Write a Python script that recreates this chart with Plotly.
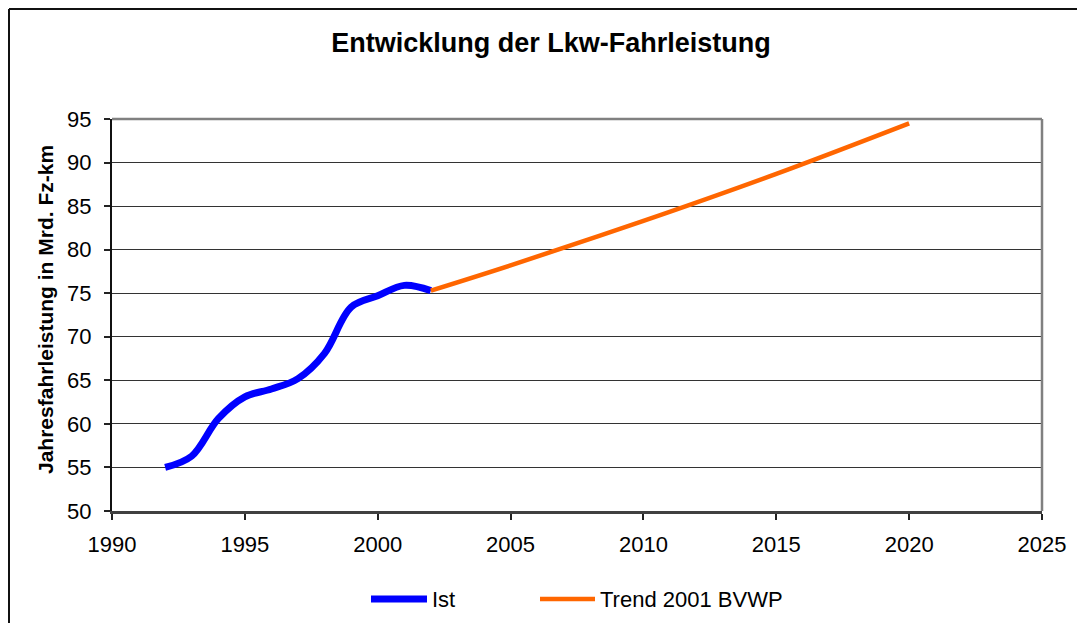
import plotly.graph_objects as go

# ---- data ----
ist_years = [1992, 1993, 1994, 1995, 1996, 1997, 1998, 1999, 2000, 2001, 2002]
ist_values = [55.0, 56.3, 60.6, 63.1, 64.0, 65.2, 68.1, 73.4, 74.7, 75.9, 75.3]

trend_years = [2002, 2005, 2010, 2015, 2020]
trend_values = [75.3, 78.2, 83.3, 88.7, 94.5]

x_ticks = [1990, 1995, 2000, 2005, 2010, 2015, 2020, 2025]
y_ticks = [50, 55, 60, 65, 70, 75, 80, 85, 90, 95]

title_text = "Entwicklung der Lkw-Fahrleistung"
y_title = "Jahresfahrleistung in Mrd. Fz-km"
series_names = ["Ist", "Trend 2001 BVWP"]
colors = ["#0000FF", "#FF6600"]

FONT = "Liberation Sans, Arial, sans-serif"
OFF = 8  # page body margin of the browser
W, H = 1085 - OFF, 623 - OFF
PL, PT, PR, PB = 112, 119, 1042, 511  # plot area in screenshot pixels
pw, ph = PR - PL, PB - PT
L, T = PL - OFF, PT - OFF
R, B = W - L - pw, H - T - ph

def px_x(p):
    return (p - PL) / pw

def px_y(p):
    return (PB - p) / ph

fig = go.Figure()
fig.add_trace(go.Scatter(x=ist_years, y=ist_values, mode="lines", name=series_names[0],
                         line=dict(color=colors[0], width=7, shape="spline"),
                         showlegend=False))
fig.add_trace(go.Scatter(x=trend_years, y=trend_values, mode="lines", name=series_names[1],
                         line=dict(color=colors[1], width=4.5, shape="spline"),
                         showlegend=False))

shapes = []
# plot area top/right border (gray)
shapes.append(dict(type="line", xref="paper", yref="paper", x0=0, x1=1, y0=1, y1=1,
                   line=dict(color="#808080", width=2.5)))
shapes.append(dict(type="line", xref="paper", yref="paper", x0=1, x1=1, y0=0, y1=1,
                   line=dict(color="#808080", width=2.5)))
# outer chart border (left and top visible)
shapes.append(dict(type="line", xref="paper", yref="paper", x0=px_x(9), x1=px_x(9),
                   y0=px_y(9), y1=px_y(700), line=dict(color="#111111", width=2)))
shapes.append(dict(type="line", xref="paper", yref="paper", x0=px_x(9), x1=px_x(1200),
                   y0=px_y(9), y1=px_y(9), line=dict(color="#111111", width=2)))
# legend samples
shapes.append(dict(type="line", xref="paper", yref="paper", x0=px_x(371), x1=px_x(427),
                   y0=px_y(599), y1=px_y(599), line=dict(color=colors[0], width=7)))
shapes.append(dict(type="line", xref="paper", yref="paper", x0=px_x(540), x1=px_x(595),
                   y0=px_y(599), y1=px_y(599), line=dict(color=colors[1], width=4.5)))

annotations = [
    dict(text=series_names[0], xref="paper", yref="paper", x=px_x(430), y=px_y(599),
         xanchor="left", yanchor="middle", showarrow=False,
         font=dict(family=FONT, size=22, color="black")),
    dict(text=series_names[1], xref="paper", yref="paper", x=px_x(598), y=px_y(599),
         xanchor="left", yanchor="middle", showarrow=False,
         font=dict(family=FONT, size=22, color="black")),
    dict(text="<b>" + y_title + "</b>", xref="paper", yref="paper", x=px_x(45), y=px_y(310),
         xanchor="center", yanchor="middle", textangle=-90, showarrow=False,
         font=dict(family=FONT, size=21, color="black")),
]

fig.update_layout(
    width=W, height=H,
    margin=dict(l=L, r=R, t=T, b=B),
    paper_bgcolor="white", plot_bgcolor="white",
    title=dict(text="<b>" + title_text + "</b>", x=(551 - OFF) / W, xref="container",
               xanchor="center", y=1 - (43 - OFF) / H, yref="container", yanchor="middle",
               font=dict(family=FONT, size=27, color="black")),
    font=dict(family=FONT, size=22, color="black"),
    shapes=shapes,
    annotations=annotations,
    showlegend=False,
)
fig.update_xaxes(range=[1990, 2025], tickvals=x_ticks, ticktext=[str(v) for v in x_ticks],
                 showgrid=False, zeroline=False, showline=True, linecolor="#404040", linewidth=2.5,
                 ticks="outside", ticklen=6, tickcolor="#222222", tickwidth=1.5,
                 ticklabelstandoff=6, tickfont=dict(family=FONT, size=22, color="black"))
fig.update_yaxes(range=[50, 95], tickvals=y_ticks, ticktext=[str(v) for v in y_ticks],
                 showgrid=True, gridcolor="#333333", gridwidth=1, zeroline=False,
                 showline=True, linecolor="#111111", linewidth=2,
                 ticks="outside", ticklen=6, tickcolor="#222222", tickwidth=1.5,
                 ticklabelstandoff=8, tickfont=dict(family=FONT, size=22, color="black"))

fig.write_html("out.html")
